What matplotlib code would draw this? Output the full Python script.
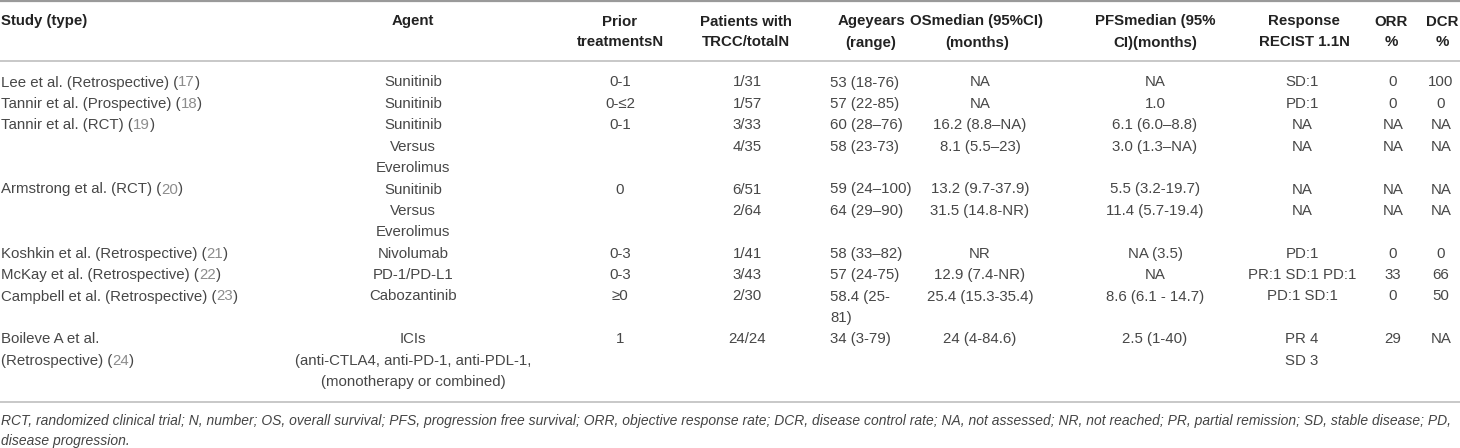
import matplotlib
matplotlib.use("Agg")
import matplotlib.pyplot as plt

plt.rcParams['font.family'] = ['Liberation Sans', 'DejaVu Sans']

# ---- table content ----
header_line1 = ["Study (type)", "Agent", "Prior", "Patients with", "Ageyears", "OSmedian (95%CI)",
                "PFSmedian (95%", "Response", "ORR", "DCR"]
header_line2 = ["", "", "treatmentsN", "TRCC/totalN", "(range)", "(months)", "CI)(months)",
                "RECIST 1.1N", "%", "%"]

study_names = ["Lee et al. (Retrospective)", "Tannir et al. (Prospective)", "Tannir et al. (RCT)",
               "Armstrong et al. (RCT)", "Koshkin et al. (Retrospective)", "McKay et al. (Retrospective)",
               "Campbell et al. (Retrospective)", "Boileve A et al.\n(Retrospective)"]
study_refs = ["17", "18", "19", "20", "21", "22", "23", "24"]
study_lines = [0, 1, 2, 5, 8, 9, 10, 12]

agent_col = ["Sunitinib", "Sunitinib", "Sunitinib", "Versus", "Everolimus", "Sunitinib", "Versus",
             "Everolimus", "Nivolumab", "PD-1/PD-L1", "Cabozantinib", "", "ICIs",
             "(anti-CTLA4, anti-PD-1, anti-PDL-1,", "(monotherapy or combined)"]
prior_col = ["0-1", "0-≤2", "0-1", "", "", "0", "", "", "0-3", "0-3", "≥0", "", "1", "", ""]
patients_col = ["1/31", "1/57", "3/33", "4/35", "", "6/51", "2/64", "", "1/41", "3/43", "2/30", "",
                "24/24", "", ""]
age_col = ["53 (18-76)", "57 (22-85)", "60 (28–76)", "58 (23-73)", "", "59 (24–100)", "64 (29–90)", "",
           "58 (33–82)", "57 (24-75)", "58.4 (25-", "81)", "34 (3-79)", "", ""]
os_col = ["NA", "NA", "16.2 (8.8–NA)", "8.1 (5.5–23)", "", "13.2 (9.7-37.9)", "31.5 (14.8-NR)", "",
          "NR", "12.9 (7.4-NR)", "25.4 (15.3-35.4)", "", "24 (4-84.6)", "", ""]
pfs_col = ["NA", "1.0", "6.1 (6.0–8.8)", "3.0 (1.3–NA)", "", "5.5 (3.2-19.7)", "11.4 (5.7-19.4)", "",
           "NA (3.5)", "NA", "8.6 (6.1 - 14.7)", "", "2.5 (1-40)", "", ""]
resp_col = ["SD:1", "PD:1", "NA", "NA", "", "NA", "NA", "", "PD:1", "PR:1 SD:1 PD:1", "PD:1 SD:1", "",
            "PR 4", "SD 3", ""]
orr_col = ["0", "0", "NA", "NA", "", "NA", "NA", "", "0", "33", "0", "", "29", "", ""]
dcr_col = ["100", "0", "NA", "NA", "", "NA", "NA", "", "0", "66", "50", "", "NA", "", ""]

footnote_lines = ["RCT, randomized clinical trial; N, number; OS, overall survival; PFS, progression free survival; "
                  "ORR, objective response rate; DCR, disease control rate; NA, not assessed; NR, not reached; "
                  "PR, partial remission; SD, stable disease; PD,",
                  "disease progression."]

# layout (pixels)
W, H = 1460, 448
header_x = [1, 413, 620, 746, 871, 977, 1155, 1304, 1391, 1442]
header_ha = ['left'] + ['center'] * 9
data_cols = [agent_col, prior_col, patients_col, age_col, os_col, pfs_col, resp_col, orr_col, dcr_col]
data_x = [413, 620, 747, 830, 980, 1155, 1302, 1393, 1441]
data_ha = ['center', 'center', 'center', 'left', 'center', 'center', 'center', 'center', 'center']
row0, pitch = 82.5, 21.4
fs = 10.8
txt_color = '#474747'
ref_color = '#8c8c8c'

fig = plt.figure(figsize=(W / 100, H / 100), dpi=100)
ax = fig.add_axes([0, 0, 1, 1])
ax.set_xlim(0, W)
ax.set_ylim(H, 0)
ax.axis('off')

# rules
ax.plot([0, W], [1.2, 1.2], color='#9a9a9a', lw=1.6)
ax.plot([0, W], [61.5, 61.5], color='#c8c8c8', lw=1.4)
ax.plot([0, W], [402.5, 402.5], color='#c8c8c8', lw=1.4)

# header
for h1, h2, x, ha in zip(header_line1, header_line2, header_x, header_ha):
    ax.text(x, 21.5, h1, ha=ha, va='center', fontsize=fs, fontweight='bold', color='#222222')
    if h2:
        ax.text(x, 42.5, h2, ha=ha, va='center', fontsize=fs, fontweight='bold', color='#222222')

# data columns
for col, x, ha in zip(data_cols, data_x, data_ha):
    for i, v in enumerate(col):
        if v:
            ax.text(x, row0 + i * pitch, v, ha=ha, va='center', fontsize=fs, color=txt_color)

# study names with grey reference numbers
fig.canvas.draw()
renderer = fig.canvas.get_renderer()
for name, ref, line in zip(study_names, study_refs, study_lines):
    parts = name.split('\n')
    for k, p in enumerate(parts):
        y = row0 + (line + k) * pitch
        if k < len(parts) - 1:
            ax.text(1, y, p, ha='left', va='center', fontsize=fs, color=txt_color)
            continue
        x = 1
        for seg, c in [(p + ' (', txt_color), (ref, ref_color), (')', txt_color)]:
            t = ax.text(x, y, seg, ha='left', va='center', fontsize=fs, color=c)
            x += t.get_window_extent(renderer).width

# footnote
for k, line in enumerate(footnote_lines):
    ax.text(1, 421 + k * 20.5, line, ha='left', va='center', fontsize=10.0, style='italic',
            color='#444444')

fig.savefig('out.png', dpi=100)
